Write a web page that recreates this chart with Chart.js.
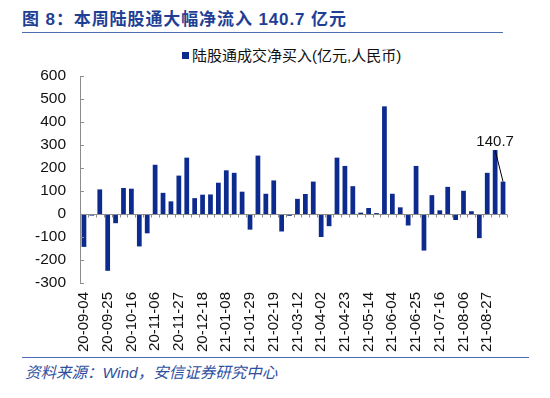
<!DOCTYPE html>
<html>
<head>
<meta charset="utf-8">
<script src="https://cdn.jsdelivr.net/npm/chart.js@4.4.1/dist/chart.umd.min.js"></script>
<style>
  html, body { margin: 0; padding: 0; background: #fff; }
  #wrap { position: relative; width: 550px; height: 398px; overflow: hidden; font-family: "Liberation Sans", Arial, "Noto Sans CJK SC", sans-serif; }
  #title { position: absolute; left: 22px; top: 5px; font-family: "Liberation Sans", "Noto Sans CJK SC", sans-serif; font-weight: bold; font-size: 17px; letter-spacing: 0.9px; color: #1f3f95; white-space: nowrap; }
  #titleLine { position: absolute; left: 22px; top: 32px; width: 481px; height: 0; border-top: 1.5px solid #4a6cb3; }
  #legend { position: absolute; left: 182px; top: 44px; font-family: "Liberation Sans", "Noto Sans CJK SC", sans-serif; font-size: 15px; color: #111; white-space: nowrap; }
  #legend span.box { display: inline-block; width: 7px; height: 7px; background: #0d2b8e; margin-right: 3px; vertical-align: 2px; }
  #chartBox { position: absolute; left: 0; top: 60px; width: 550px; height: 295px; }
  #srcLine { position: absolute; left: 22px; top: 357px; width: 507px; height: 0; border-top: 1.5px solid #4a6cb3; }
  #source { position: absolute; left: 25px; top: 360px; font-family: "Liberation Sans", "Noto Sans CJK SC", sans-serif; font-style: italic; font-size: 15.5px; color: #2f4f9f; white-space: nowrap; }
</style>
</head>
<body>
<div id="wrap">
  <div id="title">图 8：本周陆股通大幅净流入 140.7 亿元</div>
  <div id="titleLine"></div>
  <div id="legend"><span class="box"></span>陆股通成交净买入(亿元,人民币)</div>
  <div id="chartBox"><canvas id="c"></canvas></div>
  <div id="srcLine"></div>
  <div id="source">资料来源：Wind，安信证券研究中心</div>
</div>
<script>
// ── Data ───────────────────────────────────────────────
const weeks = [
  '20-09-04', '20-09-11', '20-09-18', '20-09-25', '20-10-02', '20-10-09', '20-10-16', '20-10-23', '20-10-30',
  '20-11-06', '20-11-13', '20-11-20', '20-11-27', '20-12-04', '20-12-11', '20-12-18', '20-12-25', '21-01-01',
  '21-01-08', '21-01-15', '21-01-22', '21-01-29', '21-02-05', '21-02-12', '21-02-19', '21-02-26', '21-03-05',
  '21-03-12', '21-03-19', '21-03-26', '21-04-02', '21-04-09', '21-04-16', '21-04-23', '21-04-30', '21-05-07',
  '21-05-14', '21-05-21', '21-05-28', '21-06-04', '21-06-11', '21-06-18', '21-06-25', '21-07-02', '21-07-09',
  '21-07-16', '21-07-23', '21-07-30', '21-08-06', '21-08-13', '21-08-20', '21-08-27', '21-09-03', '21-09-10'
];
const netBuy = [
  -143, -7, 107, -247, -40, 113, 110, -141, -84,
  214, 92, 55, 167, 245, 69, 84, 85, 136,
  190, 179, 97, -68, 254, 88, 146, -76, -8,
  66, 87, 141, -100, -53, 245, 209, 121, 6,
  26, 4, 468, 88, 29, -50, 209, -159, 82,
  16, 118, -26, 101, 12, -105, 179, 278, 140.7
];
const yMin = -300, yMax = 600, yStep = 100;
const labelEvery = 3;
const calloutText = '140.7';

const BAR = '#0d2b8e';
const AXIS = '#8c8c8c';

// axis line, inner ticks, zero line and callout
const decor = {
  id: 'decor',
  afterDatasetsDraw(chart) {
    const { ctx, chartArea: a, scales: { x, y } } = chart;
    ctx.save();
    ctx.strokeStyle = AXIS;
    ctx.lineWidth = 1;
    // y axis
    ctx.beginPath();
    ctx.moveTo(a.left + 0.5, y.getPixelForValue(yMax));
    ctx.lineTo(a.left + 0.5, y.getPixelForValue(yMin));
    for (let v = yMin; v <= yMax; v += yStep) {
      const py = Math.round(y.getPixelForValue(v)) + 0.5;
      ctx.moveTo(a.left, py);
      ctx.lineTo(a.left + 4, py);
    }
    ctx.stroke();
    // zero line with category ticks
    const y0 = Math.round(y.getPixelForValue(0)) + 0.5;
    ctx.beginPath();
    ctx.moveTo(a.left, y0);
    ctx.lineTo(a.right, y0);
    const half = (x.getPixelForValue(1) - x.getPixelForValue(0)) / 2;
    for (let i = 0; i <= weeks.length; i++) {
      const px = Math.round(x.getPixelForValue(i) - half) + 0.5;
      ctx.moveTo(px, y0);
      ctx.lineTo(px, y0 + 3);
    }
    ctx.stroke();
    // callout on last week
    const n = netBuy.length;
    const xa = x.getPixelForValue(n - 2), ya = y.getPixelForValue(netBuy[n - 2]);
    const xb = x.getPixelForValue(n - 1), yb = y.getPixelForValue(netBuy[n - 1]);
    ctx.strokeStyle = '#000';
    ctx.beginPath();
    ctx.moveTo(xa, ya);
    ctx.lineTo(xb, yb);
    ctx.stroke();
    ctx.fillStyle = '#111';
    ctx.font = '15px "Liberation Sans", Arial, sans-serif';
    ctx.textAlign = 'center';
    ctx.textBaseline = 'alphabetic';
    ctx.fillText(calloutText, xa, ya - 4);
    ctx.restore();
  }
};

new Chart(document.getElementById('c'), {
  type: 'bar',
  data: {
    labels: weeks,
    datasets: [{
      label: '陆股通成交净买入(亿元,人民币)',
      data: netBuy,
      backgroundColor: BAR,
      borderWidth: 0,
      categoryPercentage: 1,
      barPercentage: 0.6
    }]
  },
  options: {
    responsive: true,
    maintainAspectRatio: false,
    animation: false,
    layout: { padding: { left: 0, right: 43, top: 16, bottom: 0 } },
    plugins: {
      legend: { display: false },
      tooltip: { enabled: false }
    },
    scales: {
      x: {
        grid: { display: false, drawTicks: false },
        border: { display: false },
        afterFit: s => { s.height = 72; },
        ticks: {
          autoSkip: false,
          minRotation: 90,
          maxRotation: 90,
          padding: 9,
          color: '#111',
          font: { family: '"Liberation Sans", Arial, sans-serif', size: 15 },
          callback: (v, i) => i % labelEvery === 0 ? weeks[i] : ''
        }
      },
      y: {
        min: yMin,
        max: yMax,
        grid: { display: false, drawTicks: false },
        border: { display: false },
        afterFit: s => { s.width = 80; s.paddingTop = 0; s.paddingBottom = 0; },
        ticks: {
          stepSize: yStep,
          padding: 14,
          color: '#111',
          font: { family: '"Liberation Sans", Arial, sans-serif', size: 15.5 }
        }
      }
    }
  },
  plugins: [decor]
});
</script>
</body>
</html>
